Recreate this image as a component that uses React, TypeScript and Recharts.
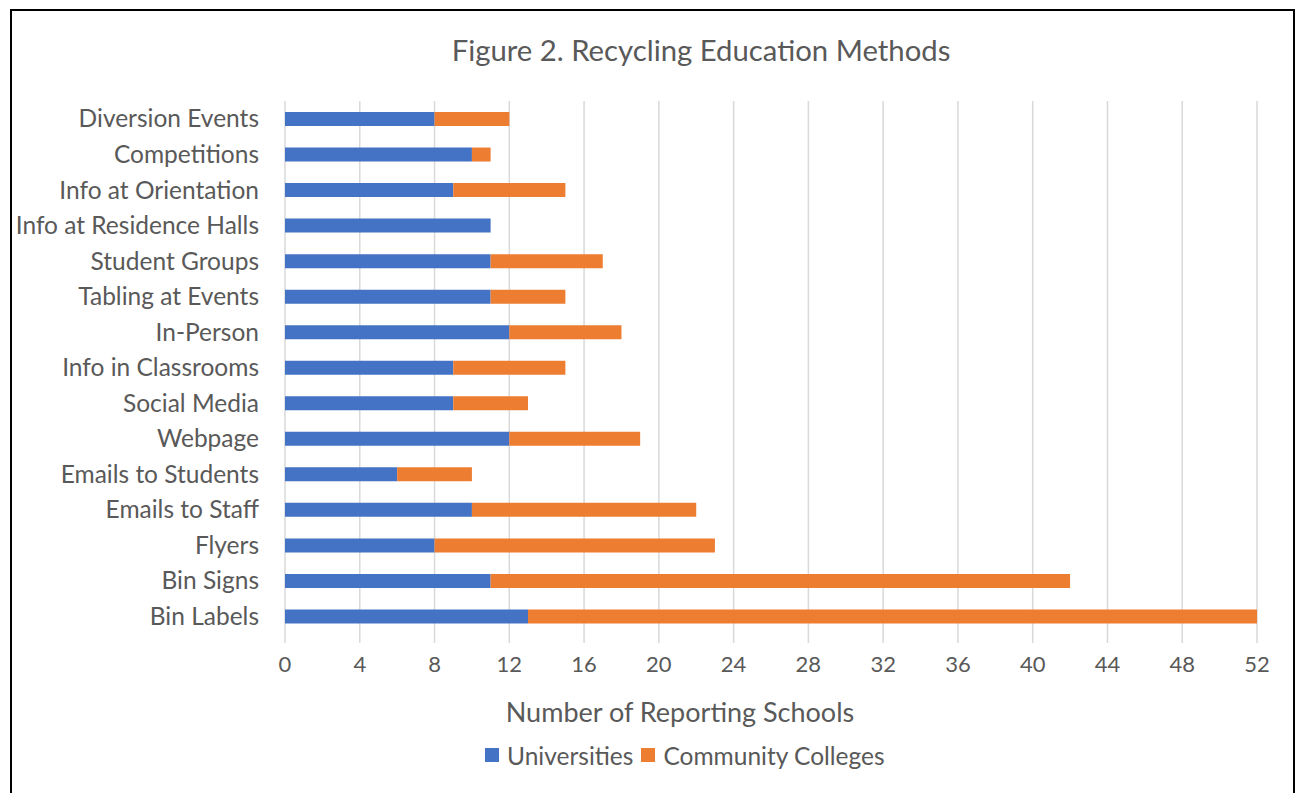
import React from "react";
import {
  BarChart,
  Bar,
  XAxis,
  YAxis,
  CartesianGrid,
  Legend,
} from "recharts";

const categories = [
  "Diversion Events",
  "Competitions",
  "Info at Orientation",
  "Info at Residence Halls",
  "Student Groups",
  "Tabling at Events",
  "In-Person",
  "Info in Classrooms",
  "Social Media",
  "Webpage",
  "Emails to Students",
  "Emails to Staff",
  "Flyers",
  "Bin Signs",
  "Bin Labels",
];
const universities = [8, 10, 9, 11, 11, 11, 12, 9, 9, 12, 6, 10, 8, 11, 13];
const communityColleges = [4, 1, 6, 0, 6, 4, 6, 6, 4, 7, 4, 12, 15, 31, 39];
const xTicks = [0, 4, 8, 12, 16, 20, 24, 28, 32, 36, 40, 44, 48, 52];
const seriesNames = ["Universities", "Community Colleges"];
const seriesColors = ["#4472C4", "#ED7D31"];
const titleText = "Figure 2. Recycling Education Methods";
const xLabelText = "Number of Reporting Schools";

const data = categories.map((c, i) => ({
  name: c,
  universities: universities[i],
  communityColleges: communityColleges[i],
}));

const FONT = "Lato, 'Open Sans', sans-serif";
const TEXT = "#595959";

const LegendContent = () => (
  <div
    style={{
      display: "flex",
      alignItems: "center",
      paddingLeft: 473,
      fontFamily: FONT,
      fontSize: 24.5,
      color: TEXT,
      height: 36,
    }}
  >
    {seriesNames.map((n, i) => (
      <div key={n} style={{ display: "flex", alignItems: "center", marginRight: 8 }}>
        <div style={{ width: 14, height: 14, background: seriesColors[i], marginRight: 8 }} />
        <span>{n}</span>
      </div>
    ))}
  </div>
);

export default function App() {
  return (
    <div
      style={{
        position: "fixed",
        left: 10,
        top: 9,
        width: 1281,
        height: 800,
        borderLeft: "2px solid #000",
        borderTop: "2px solid #000",
        borderRight: "2px solid #000",
        background: "#fff",
      }}
    >
      <div
        style={{
          position: "absolute",
          left: 689,
          top: 24,
          transform: "translateX(-50%)",
          whiteSpace: "nowrap",
          fontFamily: FONT,
          fontSize: 29.3,
          lineHeight: 1,
          color: TEXT,
        }}
      >
        {titleText}
      </div>
      <BarChart
        width={1281}
        height={782}
        data={data}
        layout="vertical"
        margin={{ top: 90, right: 36, left: 0, bottom: 0 }}
        barSize={14}
      >
        <CartesianGrid horizontal={false} stroke="#D9D9D9" strokeWidth={1.5} />
        <XAxis
          type="number"
          domain={[0, 52]}
          ticks={xTicks}
          interval={0}
          axisLine={false}
          tickSize={9}
          tickLine={{ stroke: "#D9D9D9", strokeWidth: 1.5 }}
          tickMargin={13}
          tick={{ fill: TEXT, fontSize: 22, fontFamily: FONT }}
          height={123}
          label={{
            value: xLabelText,
            position: "insideBottom",
            offset: 35,
            dx: -91,
            fill: TEXT,
            fontSize: 27,
            fontFamily: FONT,
          }}
        />
        <YAxis
          type="category"
          dataKey="name"
          width={273}
          axisLine={false}
          tickLine={false}
          tickSize={0}
          tickMargin={26}
          interval={0}
          tick={{ fill: TEXT, fontSize: 24.5, fontFamily: FONT }}
        />
        <Legend
          verticalAlign="bottom"
          content={<LegendContent />}
          wrapperStyle={{ left: 0, top: 726, width: 1281, height: 36 }}
        />
        <Bar
          dataKey="universities"
          name={seriesNames[0]}
          stackId="a"
          fill={seriesColors[0]}
          isAnimationActive={false}
        />
        <Bar
          dataKey="communityColleges"
          name={seriesNames[1]}
          stackId="a"
          fill={seriesColors[1]}
          isAnimationActive={false}
        />
      </BarChart>
    </div>
  );
}
